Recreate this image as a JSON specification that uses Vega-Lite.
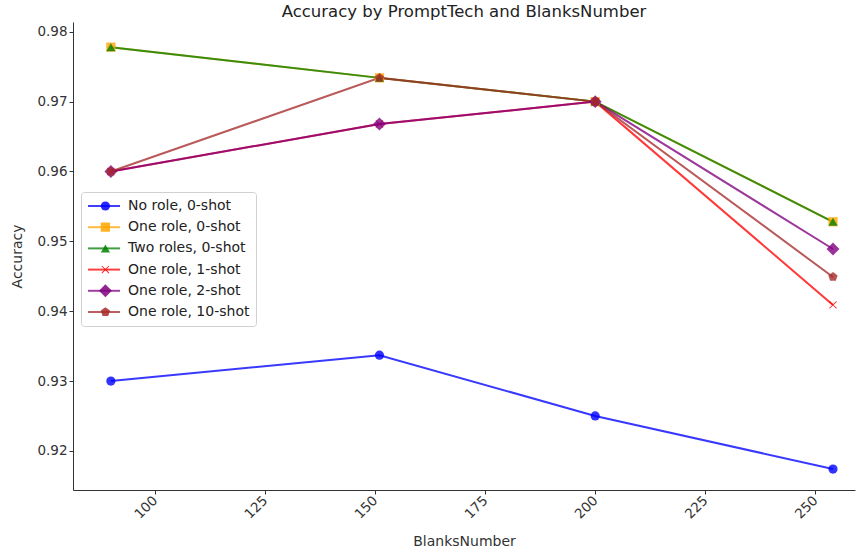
{
  "$schema": "https://vega.github.io/schema/vega-lite/v6.json",
  "width": 782,
  "height": 468,
  "autosize": {"type": "none"},
  "padding": {"left": 73, "top": 22, "right": 1, "bottom": 64},
  "background": "white",
  "title": {"text": "Accuracy by PromptTech and BlanksNumber", "font": "DejaVu Sans", "fontSize": 16.5, "fontWeight": "normal", "color": "#222", "offset": 2},
  "config": {
    "view": {"stroke": null},
    "font": "DejaVu Sans",
    "axis": {"grid": false, "domainColor": "#333", "tickColor": "#333", "labelColor": "#333", "titleColor": "#333", "labelFont": "DejaVu Sans", "titleFont": "DejaVu Sans", "labelFontSize": 13.5, "titleFontSize": 14, "titleFontWeight": "normal", "tickSize": 4}
  },
  "data": {"values": [
    {"series": "No role, 0-shot", "BlanksNumber": 90, "Accuracy": 0.9300},
    {"series": "No role, 0-shot", "BlanksNumber": 151, "Accuracy": 0.9337},
    {"series": "No role, 0-shot", "BlanksNumber": 200, "Accuracy": 0.9250},
    {"series": "No role, 0-shot", "BlanksNumber": 254, "Accuracy": 0.9174},
    {"series": "One role, 0-shot", "BlanksNumber": 90, "Accuracy": 0.9778},
    {"series": "One role, 0-shot", "BlanksNumber": 151, "Accuracy": 0.9734},
    {"series": "One role, 0-shot", "BlanksNumber": 200, "Accuracy": 0.9700},
    {"series": "One role, 0-shot", "BlanksNumber": 254, "Accuracy": 0.9528},
    {"series": "Two roles, 0-shot", "BlanksNumber": 90, "Accuracy": 0.9778},
    {"series": "Two roles, 0-shot", "BlanksNumber": 151, "Accuracy": 0.9734},
    {"series": "Two roles, 0-shot", "BlanksNumber": 200, "Accuracy": 0.9700},
    {"series": "Two roles, 0-shot", "BlanksNumber": 254, "Accuracy": 0.9528},
    {"series": "One role, 1-shot", "BlanksNumber": 90, "Accuracy": 0.9600},
    {"series": "One role, 1-shot", "BlanksNumber": 151, "Accuracy": 0.9668},
    {"series": "One role, 1-shot", "BlanksNumber": 200, "Accuracy": 0.9700},
    {"series": "One role, 1-shot", "BlanksNumber": 254, "Accuracy": 0.9409},
    {"series": "One role, 2-shot", "BlanksNumber": 90, "Accuracy": 0.9600},
    {"series": "One role, 2-shot", "BlanksNumber": 151, "Accuracy": 0.9668},
    {"series": "One role, 2-shot", "BlanksNumber": 200, "Accuracy": 0.9700},
    {"series": "One role, 2-shot", "BlanksNumber": 254, "Accuracy": 0.9489},
    {"series": "One role, 10-shot", "BlanksNumber": 90, "Accuracy": 0.9600},
    {"series": "One role, 10-shot", "BlanksNumber": 151, "Accuracy": 0.9734},
    {"series": "One role, 10-shot", "BlanksNumber": 200, "Accuracy": 0.9700},
    {"series": "One role, 10-shot", "BlanksNumber": 254, "Accuracy": 0.9449}
  ]},
  "encoding": {
    "x": {"field": "BlanksNumber", "type": "quantitative", "scale": {"domain": [81.4, 259], "nice": false, "zero": false},
      "axis": {"values": [100, 125, 150, 175, 200, 225, 250], "labelAngle": -45, "labelAlign": "right", "labelBaseline": "middle", "labelPadding": 4, "title": "BlanksNumber", "titlePadding": 14}},
    "y": {"field": "Accuracy", "type": "quantitative", "scale": {"domain": [0.9144, 0.9814], "nice": false, "zero": false},
      "axis": {"values": [0.92, 0.93, 0.94, 0.95, 0.96, 0.97, 0.98], "format": ".2f", "title": "Accuracy", "titlePadding": 12}}
  },
  "layer": [
    {"mark": {"type": "line", "strokeWidth": 2, "opacity": 0.78},
     "encoding": {
       "stroke": {"field": "series", "type": "nominal",
         "sort": ["No role, 0-shot", "One role, 0-shot", "Two roles, 0-shot", "One role, 1-shot", "One role, 2-shot", "One role, 10-shot"],
         "scale": {"range": ["#0000ff", "#ffa500", "#008000", "#ff0000", "#800080", "#a52a2a"]},
         "legend": {"title": null, "orient": "none", "legendX": 8, "legendY": 170, "symbolType": "stroke", "symbolSize": 1024, "symbolStrokeWidth": 2, "symbolOpacity": 0.75, "clipHeight": 16, "rowPadding": 5.2, "labelOffset": 7, "labelFontSize": 14, "labelFont": "DejaVu Sans", "labelColor": "#222", "strokeColor": "#d0d0d0", "padding": 6, "cornerRadius": 3}}
     }},
    {"mark": {"type": "point", "filled": true, "size": 85, "opacity": 0.8},
     "encoding": {
       "color": {"field": "series", "type": "nominal",
         "scale": {"domain": ["No role, 0-shot", "One role, 0-shot", "Two roles, 0-shot", "One role, 1-shot", "One role, 2-shot", "One role, 10-shot"],
                   "range": ["#0000ff", "#ffa500", "#008000", "#ff0000", "#800080", "#a52a2a"]},
         "legend": {"title": null, "orient": "none", "legendX": 8, "legendY": 170, "symbolSize": 85, "symbolOpacity": 0.85, "symbolOffset": 11.4, "clipHeight": 16, "rowPadding": 5.2, "labelOffset": 7, "labelFontSize": 14, "labelExpr": "''", "padding": 6, "symbolStrokeWidth": 0}},
       "shape": {"field": "series", "type": "nominal",
         "scale": {"domain": ["No role, 0-shot", "One role, 0-shot", "Two roles, 0-shot", "One role, 1-shot", "One role, 2-shot", "One role, 10-shot"],
                   "range": ["circle", "square", "triangle-up", "M-0.85,-0.7L-0.7,-0.85L0,-0.15L0.7,-0.85L0.85,-0.7L0.15,0L0.85,0.7L0.7,0.85L0,0.15L-0.7,0.85L-0.85,0.7L-0.15,0Z", "M-1.4,0L0,-1.4L1.4,0L0,1.4Z", "M0,-1.05L1,-0.32L0.62,0.85L-0.62,0.85L-1,-0.32Z"]},
         "legend": {"title": null, "orient": "none", "legendX": 8, "legendY": 170, "symbolSize": 85, "symbolOpacity": 0.85, "symbolOffset": 11.4, "clipHeight": 16, "rowPadding": 5.2, "labelOffset": 7, "labelFontSize": 14, "labelExpr": "''", "padding": 6, "symbolStrokeWidth": 0}}
     }}
  ]
}
